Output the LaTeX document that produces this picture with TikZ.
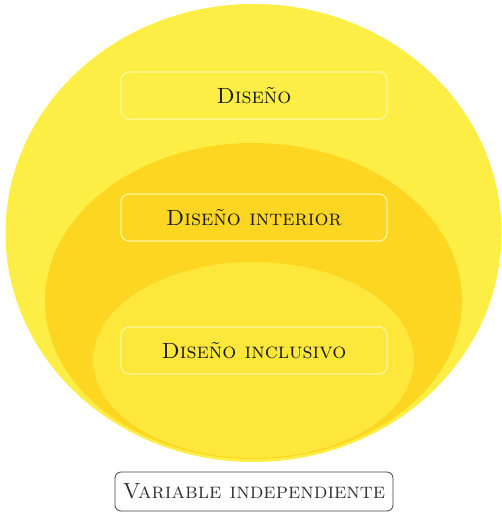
\documentclass[tikz,border=0pt]{standalone}
\usetikzlibrary{positioning}

\definecolor{outerYellow}{RGB}{252,238,68}
\definecolor{middleYellow}{RGB}{253,214,34}
\definecolor{innerYellow}{RGB}{253,231,58}
\definecolor{boxLine}{RGB}{255,246,160}

\begin{document}
\begin{tikzpicture}[x=1pt,y=-1pt,on grid,
    level/.style={draw=boxLine,line width=1.2pt,rounded corners=8pt,
      minimum width=266pt,minimum height=47pt,
      font=\fontsize{22}{26}\selectfont\scshape,text=black!90},
    varbox/.style={draw=black!75,line width=0.8pt,rounded corners=6pt,fill=white,
      minimum width=278pt,minimum height=39pt,
      font=\fontsize{22}{26}\selectfont\scshape,text=black!80}]
  \useasboundingbox (0,0) rectangle (502,513);
  % Define areas
  \fill[outerYellow] (253.5,233) ellipse [x radius=248, y radius=229];
  \begin{scope}
    \clip (253.5,233) ellipse [x radius=248, y radius=229];
    \fill[middleYellow] (253.5,301) ellipse [x radius=208.5, y radius=158];
    \fill[innerYellow] (253.5,360) ellipse [x radius=160.5, y radius=98];
  \end{scope}
  % Define labels
  \node[level] (D) at (254,95.5) {Diseño};
  \node[level] (DI) [below=122pt of D] {Diseño interior};
  \node[level] (DC) [below=133pt of DI] {Diseño inclusivo};
  \node[varbox] (V) [below=141pt of DC] {Variable independiente};
\end{tikzpicture}
\end{document}
